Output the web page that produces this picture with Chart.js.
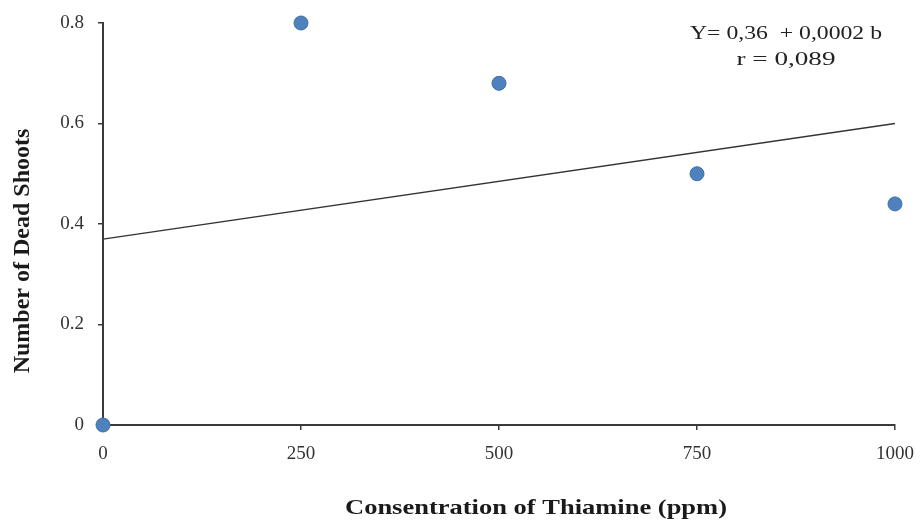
<!DOCTYPE html>
<html>
<head>
<meta charset="utf-8">
<script src="https://cdn.jsdelivr.net/npm/chart.js@4/dist/chart.umd.min.js"></script>
<style>
  html, body { margin: 0; padding: 0; background: #fff; }
  #wrap { width: 922px; height: 522px; position: relative; }
</style>
</head>
<body>
<div id="wrap"><canvas id="chart"></canvas></div>
<script>
const concentrations = [0, 250, 500, 750, 1000];
const deadShoots = [0, 0.8, 0.68, 0.5, 0.44];

// Linear fit line drawn in the figure
const trendX = [0, 1000];
const trendY = [0.37, 0.6];

const yTicks = [0, 0.2, 0.4, 0.6, 0.8];
const xTicks = [0, 250, 500, 750, 1000];

const xTitle = 'Consentration of Thiamine (ppm)';
const yTitle = 'Number of Dead Shoots';
const equation = ['Y= 0,36  + 0,0002 b', 'r = 0,089'];

const SERIF = '"Liberation Serif", "Times New Roman", serif';
const AXIS = '#3a3a3a';

// the source image is a little wider than tall, so text is stretched to the same width
function stretchedText(ctx, text, cx, cy, width) {
  const w = ctx.measureText(text).width;
  ctx.save();
  ctx.translate(cx, cy);
  ctx.scale(width / w, 1);
  ctx.fillText(text, 0, 0);
  ctx.restore();
}

// axis titles + regression note, placed by hand like the source figure
const textPlugin = {
  id: 'textPlugin',
  afterDraw(chart) {
    const { ctx } = chart;
    ctx.save();
    ctx.fillStyle = '#1a1a1a';
    ctx.textAlign = 'center';
    ctx.textBaseline = 'middle';

    ctx.font = `bold 21px ${SERIF}`;
    stretchedText(ctx, xTitle, 536, 509, 382);

    ctx.save();
    ctx.translate(23, 251);
    ctx.rotate(-Math.PI / 2);
    ctx.font = `bold 24px ${SERIF}`;
    ctx.fillText(yTitle, 0, 0);
    ctx.restore();

    ctx.font = `19px ${SERIF}`;
    ctx.fillStyle = '#222';
    stretchedText(ctx, equation[0], 786, 34, 192);
    stretchedText(ctx, equation[1], 786, 60, 99);
    ctx.restore();
  }
};

// fixed plot box: drop the label overhang padding the scales ask for
function fitBox(size) {
  return (s) => {
    if (s.isHorizontal()) s.height = size; else s.width = size;
    s.paddingTop = 0;
    s.paddingBottom = 0;
    s.paddingLeft = 0;
    s.paddingRight = 0;
  };
}

new Chart(document.getElementById('chart'), {
  type: 'scatter',
  data: {
    datasets: [
      {
        label: 'trend',
        data: trendX.map((x, i) => ({ x, y: trendY[i] })),
        showLine: true,
        borderColor: '#333',
        borderWidth: 1.3,
        pointRadius: 0,
        order: 2
      },
      {
        label: 'Dead shoots',
        data: concentrations.map((x, i) => ({ x, y: deadShoots[i] })),
        backgroundColor: '#4F81BD',
        borderColor: '#3d6ea8',
        borderWidth: 1,
        pointRadius: 7,
        order: 1
      }
    ]
  },
  options: {
    responsive: true,
    maintainAspectRatio: false,
    animation: false,
    clip: false,
    layout: { padding: { left: 0, top: 23, right: 27, bottom: 0 } },
    plugins: {
      legend: { display: false },
      tooltip: { enabled: false }
    },
    scales: {
      x: {
        type: 'linear',
        min: 0,
        max: 1000,
        afterBuildTicks: (s) => { s.ticks = xTicks.map(v => ({ value: v })); },
        afterFit: fitBox(97),
        grid: { drawOnChartArea: false, drawTicks: true, tickLength: 5, color: AXIS, lineWidth: 1.5 },
        border: { display: true, color: AXIS, width: 2 },
        ticks: {
          padding: 13,
          color: '#333',
          font: { family: SERIF, size: 19 },
          callback: (v) => String(v)
        }
      },
      y: {
        min: 0,
        max: 0.8,
        afterBuildTicks: (s) => { s.ticks = yTicks.map(v => ({ value: v })); },
        afterFit: fitBox(103),
        grid: { drawOnChartArea: false, drawTicks: true, tickLength: 5, color: AXIS, lineWidth: 1.5 },
        border: { display: true, color: AXIS, width: 2 },
        ticks: {
          padding: 14,
          color: '#333',
          font: { family: SERIF, size: 19 },
          callback: (v) => (v === 0 ? '0' : v.toFixed(1))
        }
      }
    }
  },
  plugins: [textPlugin]
});
</script>
</body>
</html>
